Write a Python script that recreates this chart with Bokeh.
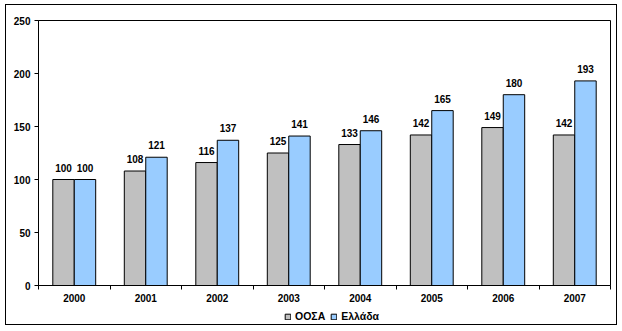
from bokeh.plotting import figure
from bokeh.layouts import column
from bokeh.core.properties import value
from bokeh.models import (ColumnDataSource, Range1d, FixedTicker, Legend, LegendItem, LabelSet)
from bokeh.embed import file_html
from bokeh.resources import INLINE

years = ["2000", "2001", "2002", "2003", "2004", "2005", "2006", "2007"]
oecd = [100, 108, 116, 125, 133, 142, 149, 142]
greece = [100, 121, 137, 141, 146, 165, 180, 193]
series_names = ["ΟΟΣΑ", "Ελλάδα"]
y_ticks = [0, 50, 100, 150, 200, 250]

FONT = "Liberation Sans"
FS = "10px"
FS_VAL = "10px"
FS_LEG = "10.5px"
GREY = "#C0C0C0"
BLUE = "#99CCFF"

n = len(years)
centers = [i + 0.5 for i in range(n)]
src = ColumnDataSource(dict(
    x1=[c - 0.15 for c in centers], x2=[c + 0.15 for c in centers],
    oecd=oecd, greece=greece,
    l1=[str(v) for v in oecd], l2=[str(v) for v in greece],
))

p = figure(width=610, height=305, output_backend="svg", toolbar_location=None,
           x_range=Range1d(0, n), y_range=Range1d(0, 250),
           min_border_left=32, min_border_right=6, min_border_top=15, min_border_bottom=25)

p.xgrid.visible = False
p.ygrid.visible = False
p.outline_line_color = "black"
p.outline_line_width = 1
p.background_fill_color = "white"
p.border_fill_color = "white"

r1 = p.vbar(x="x1", top="oecd", width=0.3, source=src, fill_color=GREY, line_color="black", line_width=1)
r2 = p.vbar(x="x2", top="greece", width=0.3, source=src, fill_color=BLUE, line_color="black", line_width=1)

for xcol, ycol, lcol in (("x1", "oecd", "l1"), ("x2", "greece", "l2")):
    p.add_layout(LabelSet(x=xcol, y=ycol, text=lcol, source=src, text_align="center",
                          text_baseline="bottom", y_offset=8, text_font=value(FONT),
                          text_font_size=value(FS_VAL), text_font_style=value("bold"),
                          text_color="black"))

xa = p.xaxis[0]
xa.ticker = FixedTicker(ticks=centers, minor_ticks=list(range(n + 1)))
xa.major_label_overrides = {c: y for c, y in zip(centers, years)}
xa.major_tick_out = 0
xa.major_tick_in = 0
xa.minor_tick_out = 4
xa.minor_tick_in = 0
xa.minor_tick_line_color = "black"
xa.axis_line_color = "black"
xa.major_label_standoff = 4
xa.major_label_text_font = FONT
xa.major_label_text_font_size = FS
xa.major_label_text_font_style = "bold"
xa.major_label_text_color = "black"

ya = p.yaxis[0]
ya.ticker = FixedTicker(ticks=y_ticks)
ya.major_tick_out = 4
ya.major_tick_in = 0
ya.minor_tick_out = 0
ya.minor_tick_in = 0
ya.axis_line_color = "black"
ya.major_tick_line_color = "black"
ya.major_label_standoff = 4
ya.major_label_text_font = FONT
ya.major_label_text_font_size = FS
ya.major_label_text_font_style = "bold"
ya.major_label_text_color = "black"

# legend strip below the chart (legend glyph renderers hold no drawable data)
p2 = figure(width=610, height=14, output_backend="svg", toolbar_location=None,
            x_range=Range1d(0, 1), y_range=Range1d(0, 1),
            min_border_left=0, min_border_right=0, min_border_top=0, min_border_bottom=1)
p2.axis.visible = False
p2.grid.visible = False
p2.outline_line_color = None
p2.border_fill_color = "white"
nan = float("nan")
lg1 = p2.vbar(x=[nan], top=[nan], width=0.1, fill_color=GREY, line_color="black", line_width=1)
lg2 = p2.vbar(x=[nan], top=[nan], width=0.1, fill_color=BLUE, line_color="black", line_width=1)
legend = Legend(items=[LegendItem(label=series_names[0], renderers=[lg1]),
                       LegendItem(label=series_names[1], renderers=[lg2])],
                location=(246, 1), orientation="horizontal",
                glyph_width=7, glyph_height=7, label_standoff=4, spacing=5,
                padding=0, margin=0, border_line_alpha=0, background_fill_alpha=0,
                label_text_font=FONT, label_text_font_size=FS_LEG, label_text_font_style="bold",
                label_text_color="black", label_height=10)
p2.add_layout(legend, "center")

lay = column(p, p2, spacing=0)
lay.styles = {"margin-left": "5px", "margin-top": "4px", "border": "1px solid black",
              "background-color": "white"}

open("out.html", "w").write(file_html(lay, INLINE))
